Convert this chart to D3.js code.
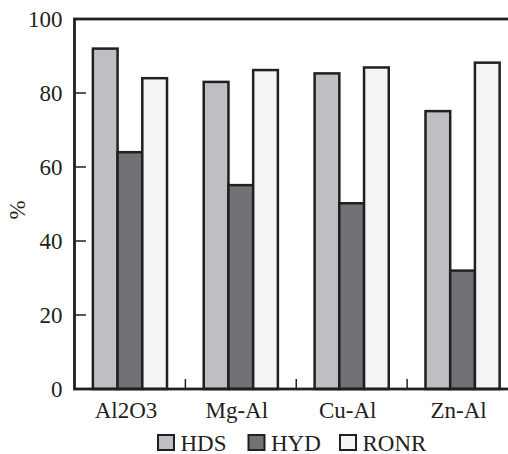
<!DOCTYPE html>
<html>
<head>
<meta charset="utf-8">
<script src="https://cdn.jsdelivr.net/npm/d3@7"></script>
<style>
  body { margin: 0; background: #fff; }
  svg { display: block; }
  svg text { font-family: "Liberation Serif", "Times New Roman", Times, "DejaVu Serif", serif; }
</style>
</head>
<body>
<svg id="chart"></svg>
<script>
// data
const catalysts = ["Al2O3", "Mg-Al", "Cu-Al", "Zn-Al"];
const seriesNames = ["HDS", "HYD", "RONR"];
const hds = [92, 83, 85.3, 75.1];
const hyd = [64, 55.1, 50.2, 32];
const ronr = [84, 86.2, 86.9, 88.2];
const yTicks = [0, 20, 40, 60, 80, 100];

const colors = { HDS: "#bebfc3", HYD: "#717276", RONR: "#f4f4f4" };
const ink = "#231f20";
const fontSize = 23;

const width = 508, height = 454;
const margin = { top: 19, right: -10, bottom: 65, left: 74.5 };
const innerW = width - margin.left - margin.right;
const innerH = height - margin.top - margin.bottom;

const rows = catalysts.map((c, i) => ({ cat: c, HDS: hds[i], HYD: hyd[i], RONR: ronr[i] }));

const svg = d3.select("#chart").attr("width", width).attr("height", height);
svg.append("rect").attr("width", width).attr("height", height).attr("fill", "#fff");
const g = svg.append("g").attr("transform", `translate(${margin.left},${margin.top})`);

const x0 = d3.scaleBand().domain(catalysts).range([0, innerW]).padding(0);
const x1 = d3.scaleBand().domain(seriesNames).range([0, x0.bandwidth()]).paddingInner(0).paddingOuter(0.743);
const y = d3.scaleLinear().domain([0, 100]).range([innerH, 0]);

// bars
const groups = g.selectAll(".grp").data(rows).join("g")
  .attr("class", "grp")
  .attr("transform", d => `translate(${x0(d.cat)},0)`);

groups.selectAll("rect")
  .data(d => seriesNames.map(k => ({ key: k, value: d[k] })))
  .join("rect")
  .attr("x", d => x1(d.key))
  .attr("y", d => y(d.value))
  .attr("width", x1.bandwidth())
  .attr("height", d => innerH - y(d.value))
  .attr("fill", d => colors[d.key])
  .attr("stroke", ink)
  .attr("stroke-width", 2.5);

// y axis, ticks pointing inward
const yAxis = g.append("g").call(
  d3.axisLeft(y).tickValues(yTicks).tickSizeInner(0).tickSizeOuter(0).tickPadding(12)
);
yAxis.attr("font-family", null);
yAxis.select(".domain").remove();
yAxis.selectAll("text").attr("font-size", fontSize).attr("fill", ink);

g.selectAll(".ytick").data(yTicks.filter(t => t > 0 && t < 100)).join("line")
  .attr("class", "ytick")
  .attr("x1", 0).attr("x2", 11.5)
  .attr("y1", d => y(d)).attr("y2", d => y(d))
  .attr("stroke", ink).attr("stroke-width", 1.5);

// x axis labels
const xAxis = g.append("g").attr("transform", `translate(0,${innerH})`).call(
  d3.axisBottom(x0).tickSize(0).tickPadding(13)
);
xAxis.attr("font-family", null);
xAxis.select(".domain").remove();
xAxis.selectAll("text").attr("font-size", fontSize).attr("fill", ink).attr("dx", -4);

// separators between groups, pointing up
g.selectAll(".xsep").data(catalysts.slice(1)).join("line")
  .attr("class", "xsep")
  .attr("x1", d => x0(d)).attr("x2", d => x0(d))
  .attr("y1", innerH).attr("y2", innerH - 10)
  .attr("stroke", ink).attr("stroke-width", 1.5);

// frame
g.append("rect")
  .attr("x", 0).attr("y", 0).attr("width", innerW).attr("height", innerH)
  .attr("fill", "none").attr("stroke", ink).attr("stroke-width", 2.8);

// y title
svg.append("text")
  .attr("transform", `translate(20,210) rotate(-90)`)
  .attr("text-anchor", "middle")
  .attr("dominant-baseline", "middle")
  .attr("font-size", fontSize)
  .attr("fill", ink)
  .text("%");

// legend
const legendX = [158, 248.5, 340];
const legend = svg.selectAll(".legend").data(seriesNames).join("g")
  .attr("class", "legend")
  .attr("transform", (d, i) => `translate(${legendX[i]},435)`);
legend.append("rect")
  .attr("width", 16).attr("height", 15)
  .attr("fill", d => colors[d]).attr("stroke", ink).attr("stroke-width", 2);
legend.append("text")
  .attr("x", 22.5).attr("y", 15.5)
  .attr("font-size", fontSize).attr("fill", ink)
  .text(d => d);
</script>
</body>
</html>
